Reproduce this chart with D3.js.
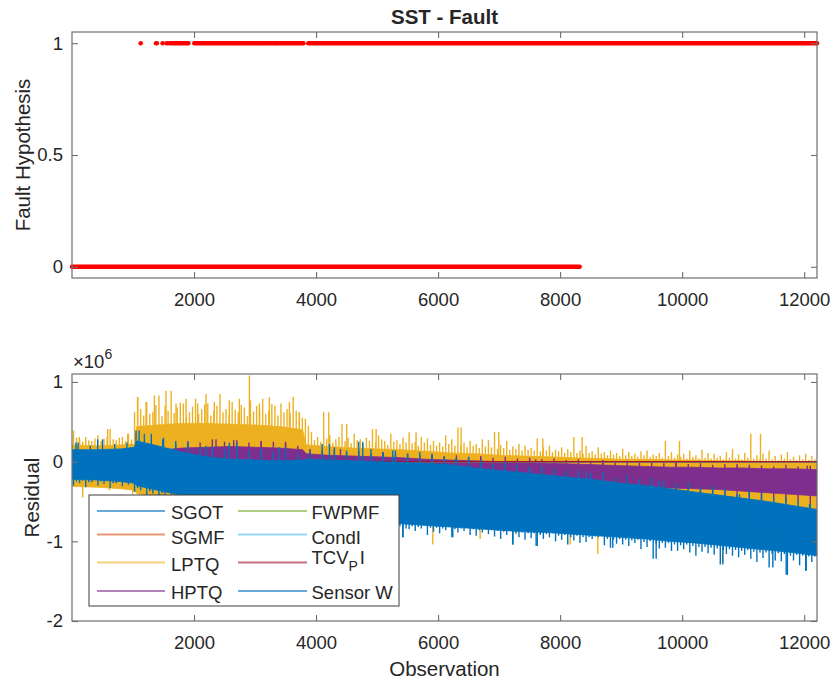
<!DOCTYPE html>
<html>
<head>
<meta charset="utf-8">
<script src="https://cdn.jsdelivr.net/npm/d3@7"></script>
<style>
  body { margin: 0; background: #fff; }
  svg { display: block; }
  text { font-family: "Liberation Sans", Arial, Helvetica, sans-serif; fill: #262626; }
</style>
</head>
<body>
<svg id="fig" width="835" height="688"></svg>
<script>
// ---------- data ----------
const obsMax = 12210;
const xTickValues = [2000, 4000, 6000, 8000, 10000, 12000];
const faultTickValues = [0, 0.5, 1];
const residualTickValues = [-2, -1, 0, 1];

// fault hypothesis: runs of observations [first, last] flagged at each level
const faultZeroRuns = [[0, 8320]];
const faultOneRuns = [[1126, 1126], [1377, 1390], [1486, 1486], [1552, 1560], [1600, 1907],
  [2005, 2340], [2365, 2700], [2720, 3060], [3080, 3330], [3345, 3792], [3874, 12210]];

// residuals (x 1e6)
const seriesNames = ["SGOT", "SGMF", "LPTQ", "HPTQ", "FWPMF", "CondI", "TCV_PI", "Sensor W"];
const seriesColors = ["#0072BD", "#D95319", "#EDB120", "#7E2F8E", "#77AC30", "#4DBEEE", "#A2142F", "#0072BD"];

// dense core of each trace: upper / lower edge at these observations
const obsGrid = [0, 400, 800, 1020, 1060, 1400, 1800, 2200, 2600, 3000, 3400, 3780, 3840,
  4200, 4600, 5000, 5400, 5800, 6200, 6600, 7000, 7400, 7800, 8200, 8600, 9000, 9400, 9800,
  10200, 10600, 11000, 11400, 11800, 12210];
const coarseObs = [0, 3000, 6000, 9000, 12210];
const flatObs = [0, 12210];
// window widths (observations) of the per-window extreme arrays
const fineWindow = 50;
const coarseWindow = 200;

const sgotHi = [0.08, 0.06, 0.02, -0.05, -0.10];
const sgotLo = [-0.10, -0.15, -0.20, -0.30, -0.40];
const sgmfHi = [0.06, 0.05, 0.01, -0.06, -0.12];
const sgmfLo = [-0.08, -0.12, -0.18, -0.28, -0.38];

const lptqHi = [0.21, 0.20, 0.21, 0.22, 0.44, 0.46, 0.48, 0.48, 0.47, 0.46, 0.44, 0.40, 0.21,
  0.19, 0.17, 0.16, 0.15, 0.13, 0.11, 0.10, 0.08, 0.07, 0.06, 0.05, 0.04, 0.03, 0.03, 0.02,
  0.02, 0.01, 0.01, 0.00, 0.00, 0.00];
const lptqLo = [-0.31, -0.32, -0.34, -0.36, -0.40, -0.44, -0.48, -0.52, -0.56, -0.60, -0.64, -0.66, -0.67,
  -0.69, -0.71, -0.73, -0.75, -0.77, -0.79, -0.81, -0.83, -0.85, -0.86, -0.88, -0.90, -0.92, -0.94, -0.97,
  -0.99, -1.02, -1.05, -1.08, -1.11, -1.15];
// LPTQ maximum in each 50-observation window
const lptqWindowMax = [
  0.39, 0.30, 0.28, 0.25, 0.31, 0.27, 0.26, 0.29, 0.33, 0.26, 0.29, 0.31, 0.41, 0.28, 0.27, 0.30, 0.31, 0.26, 0.35, 0.28,
  0.62, 0.81,
  0.66, 0.58, 0.75, 0.60, 0.62, 0.71, 0.83, 0.57, 0.70, 0.64, 0.89, 0.61, 0.68, 0.74, 0.73, 0.56, 0.62, 0.69,
  0.79, 0.60, 0.66, 0.72, 0.73, 0.58, 0.64, 0.70, 0.85, 0.62, 0.66, 0.59, 0.75, 0.65, 0.62, 0.71, 0.68, 0.57,
  0.77, 0.63, 0.70, 0.66, 0.79, 0.60, 0.64, 0.72, 0.70, 0.58, 0.73, 0.62, 0.66, 0.61, 0.81, 0.64, 0.62, 0.55,
  0.54, 0.45,
  0.37, 0.27, 0.31, 0.25, 0.62, 0.29, 0.33, 0.24, 0.28, 0.31, 0.47, 0.26, 0.30, 0.23, 0.35, 0.27, 0.28, 0.22, 0.30, 0.26,
  0.41, 0.24, 0.33, 0.28, 0.26, 0.21, 0.35, 0.25, 0.27, 0.22, 0.30, 0.24, 0.37, 0.23, 0.25, 0.20, 0.31, 0.24, 0.29, 0.21,
  0.26, 0.20, 0.24, 0.19, 0.33, 0.22, 0.28, 0.20, 0.43, 0.21, 0.24, 0.18, 0.26, 0.20, 0.22, 0.17, 0.28, 0.19, 0.27, 0.18,
  0.37, 0.16, 0.21, 0.17, 0.26, 0.15, 0.19, 0.16, 0.22, 0.14, 0.20, 0.15, 0.17, 0.14, 0.29, 0.13, 0.18, 0.14, 0.20, 0.12,
  0.15, 0.13, 0.18, 0.11, 0.16, 0.12, 0.31, 0.11, 0.14, 0.10, 0.20, 0.11, 0.13, 0.09, 0.18, 0.10, 0.12, 0.08, 0.14, 0.09,
  0.11, 0.07, 0.16, 0.08, 0.12, 0.07, 0.10, 0.06, 0.13, 0.08, 0.14, 0.06, 0.09, 0.07, 0.11, 0.05, 0.26, 0.07, 0.12, 0.05,
  0.09, 0.06, 0.10, 0.04, 0.14, 0.06, 0.08, 0.04, 0.15, 0.05, 0.11, 0.04, 0.10, 0.05, 0.07, 0.03, 0.12, 0.05, 0.16, 0.04,
  0.09, 0.03, 0.11, 0.05, 0.35, 0.04, 0.08, 0.03, 0.10, 0.04, 0.14, 0.03, 0.07, 0.02, 0.09, 0.04, 0.12, 0.03, 0.06, 0.02,
  0.08, 0.03, 0.10, 0.02, 0.07, 0.03];
// further isolated LPTQ peaks [observation, value]
const lptqPeaks = [[120, 0.31], [585, 0.41], [913, 0.35],
  [1076, 0.81], [1213, 0.75], [1350, 0.83], [1541, 0.89], [1705, 0.73], [1869, 0.79], [2060, 0.73],
  [2197, 0.85], [2333, 0.75], [2579, 0.77], [2743, 0.79], [2907, 1.08], [3071, 0.73], [3235, 0.81],
  [3563, 0.75], [3727, 0.62], [4208, 0.62], [4503, 0.47], [4984, 0.41], [5639, 0.37], [6377, 0.43],
  [6995, 0.37], [7716, 0.29], [8361, 0.31], [9956, 0.26], [11284, 0.35],
  [45, -0.30], [175, -0.45], [448, -0.32], [612, -0.36], [830, -0.32], [995, -0.41],
  [5913, -1.04], [6514, -0.83], [6689, -0.97], [7279, -0.91], [8164, -1.04], [8618, -1.16], [10667, -1.27]];

const hptqHi = [0.08, 0.08, 0.08, 0.09, 0.11, 0.14, 0.17, 0.18, 0.19, 0.18, 0.17, 0.15, 0.10,
  0.08, 0.07, 0.06, 0.05, 0.03, 0.02, 0.01, 0.00, -0.01, -0.02, -0.03, -0.04, -0.05, -0.06, -0.07,
  -0.07, -0.08, -0.08, -0.09, -0.09, -0.10];
const hptqLo = [-0.15, -0.15, -0.16, -0.17, -0.18, -0.20, -0.20, -0.20, -0.21, -0.22, -0.23, -0.24, -0.25,
  -0.25, -0.26, -0.26, -0.27, -0.27, -0.28, -0.28, -0.29, -0.29, -0.30, -0.30, -0.30, -0.31, -0.32, -0.33,
  -0.34, -0.35, -0.37, -0.39, -0.41, -0.43];
// HPTQ maximum / minimum in each 200-observation window
const hptqWindowMax = [0.10, 0.12, 0.09, 0.11, 0.10, 0.15, 0.18, 0.20, 0.22,
  0.26, 0.24, 0.28, 0.25, 0.27, 0.24, 0.26, 0.25, 0.23, 0.20,
  0.16, 0.14, 0.15, 0.12, 0.13, 0.10, 0.12, 0.09, 0.10, 0.08, 0.09, 0.07, 0.08, 0.06, 0.07, 0.05,
  0.06, 0.04, 0.05, 0.03, 0.04, 0.02, 0.03, 0.01, 0.02, 0.00, 0.01, -0.01, 0.00, -0.02, -0.01, -0.03,
  -0.02, -0.04, -0.03, -0.05, -0.04, -0.05, -0.06, -0.04, -0.06, -0.05];
const hptqWindowMin = [-0.20, -0.21, -0.22, -0.22, -0.24, -0.25, -0.25, -0.26, -0.26, -0.27, -0.28,
  -0.28, -0.29, -0.30, -0.30, -0.31, -0.31, -0.32, -0.32,
  -0.33, -0.32, -0.34, -0.33, -0.35, -0.34, -0.35, -0.36, -0.35, -0.36, -0.37, -0.36, -0.37, -0.38,
  -0.37, -0.36, -0.38, -0.37, -0.39, -0.38, -0.37, -0.39, -0.40, -0.38, -0.41, -0.39, -0.42, -0.40,
  -0.44, -0.41, -0.43, -0.46, -0.44, -0.47, -0.45, -0.49, -0.46, -0.50, -0.48, -0.52, -0.49, -0.53];
const hptqPeaks = [[2360, 0.28], [2650, 0.27], [3100, 0.26], [3500, 0.25], [4400, 0.16], [5093, 0.12],
  [5900, 0.08], [6700, 0.05], [7600, 0.03], [8700, 0.01], [9902, -0.01], [10900, -0.03], [12050, -0.05]];

const fwpmfVals = [0, 0];
const condiVals = [0, 0];
const tcvpiVals = [0, 0];

const sensorWHi = [0.15, 0.15, 0.16, 0.18, 0.26, 0.20, 0.12, 0.06, 0.03, 0.02, 0.01, 0.02, 0.03,
  0.02, 0.01, 0.00, -0.01, -0.02, -0.04, -0.08, -0.11, -0.14, -0.17, -0.20, -0.23, -0.27, -0.30, -0.34,
  -0.38, -0.42, -0.46, -0.50, -0.55, -0.60];
const sensorWLo = [-0.22, -0.23, -0.25, -0.27, -0.30, -0.36, -0.42, -0.48, -0.54, -0.60, -0.65, -0.68, -0.69,
  -0.71, -0.74, -0.76, -0.78, -0.80, -0.82, -0.84, -0.86, -0.88, -0.89, -0.91, -0.93, -0.95, -0.97, -1.00,
  -1.02, -1.05, -1.08, -1.11, -1.14, -1.18];
// Sensor W maximum in each 200-observation window
const sensorWWindowMax = [0.24, 0.20, 0.28, 0.22, 0.24,
  0.39, 0.35, 0.30, 0.26, 0.24, 0.18, 0.20, 0.16, 0.24, 0.14, 0.16, 0.12, 0.18, 0.10, 0.14,
  0.22, 0.18, 0.14, 0.25, 0.16, 0.12, 0.14, 0.10, 0.12, 0.10, 0.06, 0.04, 0.06, 0.02, -0.03, 0.00,
  -0.04, -0.07, -0.05, -0.09, -0.11, -0.11, -0.14, -0.13, -0.20, -0.17, -0.22, -0.20, -0.24, -0.27,
  -0.26, -0.32, -0.30, -0.34, -0.41, -0.37, -0.40, -0.45, -0.44, -0.48, -0.53];
// Sensor W minimum in each 50-observation window
const sensorWWindowMin = [
  -0.30, -0.25, -0.27, -0.24, -0.32, -0.26, -0.26, -0.23, -0.30, -0.25, -0.28, -0.24, -0.33, -0.27, -0.27, -0.25, -0.31, -0.26, -0.29, -0.25,
  -0.38, -0.33, -0.36, -0.32, -0.42, -0.37, -0.40, -0.35, -0.45, -0.40, -0.43, -0.39, -0.48, -0.43, -0.46, -0.42, -0.52, -0.47, -0.50, -0.46,
  -0.55, -0.50, -0.53, -0.49, -0.58, -0.53, -0.56, -0.52, -0.61, -0.56, -0.59, -0.55, -0.64, -0.59, -0.62, -0.58, -0.66, -0.62, -0.65, -0.61,
  -0.70, -0.65, -0.68, -0.64, -0.72, -0.67, -0.70, -0.66, -0.75, -0.70, -0.73, -0.69, -0.77, -0.72, -0.76, -0.72, -0.78, -0.73,
  -0.80, -0.75, -0.78, -0.74, -0.82, -0.76, -0.80, -0.75, -0.84, -0.78, -0.81, -0.77, -0.83, -0.78, -0.85, -0.79, -0.82, -0.78, -0.86, -0.80,
  -0.84, -0.79, -0.87, -0.81, -0.85, -0.80, -0.88, -0.82, -0.86, -0.81, -0.95, -0.84, -0.85, -0.81, -0.87, -0.82, -0.84, -0.80, -0.92, -0.83,
  -0.88, -0.83, -0.90, -0.84, -0.86, -0.82, -0.95, -0.85, -0.89, -0.84, -0.87, -0.83, -0.92, -0.85, -0.93, -0.86, -0.89, -0.85, -0.91, -0.86,
  -0.94, -0.87, -0.97, -0.88, -0.92, -0.87, -1.04, -0.90, -0.95, -0.89, -0.98, -0.90, -0.96, -0.90, -1.06, -0.92, -0.97, -0.91, -0.95, -0.90,
  -1.00, -0.93, -0.98, -0.92, -1.04, -0.95, -0.99, -0.93, -1.02, -0.95, -1.01, -0.95, -0.97, -0.94, -0.95, -0.93, -1.05, -0.97, -1.08, -0.98,
  -1.03, -0.97, -1.04, -0.98, -1.06, -0.99, -1.02, -0.98, -1.10, -1.01, -1.07, -1.00, -1.22, -1.03, -1.09, -1.02, -1.08, -1.02, -1.12, -1.04,
  -1.12, -1.05, -1.10, -1.04, -1.14, -1.06, -1.18, -1.07, -1.13, -1.07, -1.15, -1.08, -1.17, -1.09, -1.29, -1.11, -1.16, -1.10, -1.18, -1.11,
  -1.20, -1.12, -1.17, -1.11, -1.22, -1.13, -1.26, -1.14, -1.21, -1.14, -1.33, -1.16, -1.24, -1.15, -1.25, -1.16, -1.42, -1.18, -1.24, -1.17,
  -1.30, -1.18, -1.37, -1.19, -1.26, -1.19];
const sensorWPeaks = [[66, 0.24], [421, 0.28], [1049, 0.39], [1186, 0.35], [1486, 0.28],
  [2197, 0.20], [2579, 0.24], [3399, 0.18], [4219, 0.22], [4765, 0.25], [5257, 0.14],
  [6296, 0.04], [7497, -0.07], [8426, -0.11], [9628, -0.24], [10940, -0.41], [12088, -0.53],
  [5421, -0.95], [6241, -0.95], [7224, -1.04], [7607, -1.06], [8863, -1.08], [9574, -1.22],
  [10667, -1.29], [11486, -1.33], [11705, -1.42], [12033, -1.37]];

// ---------- layout ----------
const svg = d3.select("#fig");
const axL = 72, axR = 817;
const top1 = 32, bot1 = 278, top2 = 374, bot2 = 621;
const tickFont = "18.5px", labelFont = "20.5px";
const axisColor = "#6e6e6e";

const x = d3.scaleLinear().domain([0, obsMax]).range([axL, axR]);
const yFault = d3.scaleLinear().domain([-0.05, 1.05]).range([bot1, top1]);
const yRes = d3.scaleLinear().domain([-2, 1.1]).range([bot2, top2]);

function drawFrame(yScale, yTicks, top, bot, fmt) {
  const g = svg.append("g");
  const axes = [
    [d3.axisBottom(x).tickValues(xTickValues).tickFormat(d3.format("d")), `translate(0,${bot})`],
    [d3.axisTop(x).tickValues(xTickValues).tickFormat(""), `translate(0,${top})`],
    [d3.axisLeft(yScale).tickValues(yTicks).tickFormat(fmt), `translate(${axL},0)`],
    [d3.axisRight(yScale).tickValues(yTicks).tickFormat(""), `translate(${axR},0)`]
  ];
  axes.forEach(([ax, tr], i) => {
    ax.tickSizeInner(-6).tickSizeOuter(0).tickPadding(i === 0 ? 15 : 9);
    const a = g.append("g").attr("transform", tr).call(ax);
    a.select(".domain").remove();
    a.selectAll(".tick line").attr("stroke", axisColor).attr("stroke-width", 1.1);
    a.selectAll(".tick text").style("font-size", tickFont).attr("fill", "#262626")
      .style("font-family", '"Liberation Sans", Arial, sans-serif');
  });
  g.append("rect").attr("x", axL).attr("y", top).attr("width", axR - axL).attr("height", bot - top)
    .attr("fill", "none").attr("stroke", axisColor).attr("stroke-width", 1.2);
  return g;
}

// ---------- top panel: fault hypothesis ----------
const faultG = svg.append("g");
[[faultZeroRuns, 0], [faultOneRuns, 1]].forEach(([runs, level]) => {
  faultG.selectAll(null).data(runs).join("line")
    .attr("x1", d => x(d[0])).attr("x2", d => x(d[1]))
    .attr("y1", yFault(level)).attr("y2", yFault(level))
    .attr("stroke", "#FF0000").attr("stroke-width", 4.6).attr("stroke-linecap", "round");
});
drawFrame(yFault, faultTickValues, top1, bot1, d => String(d));

svg.append("text").attr("x", (axL + axR) / 2).attr("y", 24).attr("text-anchor", "middle")
  .style("font-size", labelFont).style("font-weight", "bold").text("SST - Fault");
svg.append("text").attr("transform", `translate(30,${(top1 + bot1) / 2}) rotate(-90)`)
  .attr("text-anchor", "middle").style("font-size", labelFont).text("Fault Hypothesis");

// ---------- bottom panel: residuals ----------
svg.append("clipPath").attr("id", "resClip").append("rect")
  .attr("x", axL).attr("y", top2).attr("width", axR - axL).attr("height", bot2 - top2);
const resG = svg.append("g").attr("clip-path", "url(#resClip)");

const windowPeaks = (vals, step) => vals.map((v, i) => [i * step + step / 2, v]);

const bands = {
  "SGOT": { obs: coarseObs, hi: sgotHi, lo: sgotLo, peaks: [] },
  "SGMF": { obs: coarseObs, hi: sgmfHi, lo: sgmfLo, peaks: [] },
  "LPTQ": { obs: obsGrid, hi: lptqHi, lo: lptqLo,
    peaks: windowPeaks(lptqWindowMax, fineWindow).concat(lptqPeaks) },
  "HPTQ": { obs: obsGrid, hi: hptqHi, lo: hptqLo,
    peaks: windowPeaks(hptqWindowMax, coarseWindow).concat(windowPeaks(hptqWindowMin, coarseWindow), hptqPeaks) },
  "Sensor W": { obs: obsGrid, hi: sensorWHi, lo: sensorWLo,
    peaks: windowPeaks(sensorWWindowMax, coarseWindow).concat(windowPeaks(sensorWWindowMin, fineWindow), sensorWPeaks) }
};
const flats = { "FWPMF": fwpmfVals, "CondI": condiVals, "TCV_PI": tcvpiVals };

seriesNames.forEach((name, k) => {
  const color = seriesColors[k];
  if (bands[name]) {
    const s = bands[name];
    const area = d3.area()
      .x((d, i) => x(s.obs[i]))
      .y0((d, i) => yRes(s.lo[i]))
      .y1(d => yRes(d));
    resG.append("path").datum(s.hi).attr("d", area).attr("fill", color)
      .attr("stroke", color).attr("stroke-width", 0.8);
    const mid = d3.scaleLinear().domain(s.obs).range(s.hi.map((h, i) => (h + s.lo[i]) / 2));
    resG.selectAll(null).data(s.peaks).join("line")
      .attr("x1", d => x(d[0])).attr("x2", d => x(d[0]))
      .attr("y1", d => yRes(mid(d[0]))).attr("y2", d => yRes(d[1]))
      .attr("stroke", color).attr("stroke-width", 1.4);
  } else {
    const vals = flats[name];
    const line = d3.line().x((d, i) => x(flatObs[i])).y(d => yRes(d));
    resG.append("path").datum(vals).attr("d", line).attr("fill", "none")
      .attr("stroke", color).attr("stroke-width", 1.5);
  }
});

drawFrame(yRes, residualTickValues, top2, bot2, d => String(d));

// exponent note
const expo = svg.append("text").attr("x", 73).attr("y", 368).style("font-size", tickFont);
expo.append("tspan").text("\u00d710");
expo.append("tspan").attr("dy", -9).style("font-size", "14px").text("6");

svg.append("text").attr("transform", `translate(39,${(top2 + bot2) / 2}) rotate(-90)`)
  .attr("text-anchor", "middle").style("font-size", labelFont).text("Residual");
svg.append("text").attr("x", (axL + axR) / 2).attr("y", 676).attr("text-anchor", "middle")
  .style("font-size", labelFont).text("Observation");

// ---------- legend ----------
const leg = svg.append("g");
leg.append("rect").attr("x", 89).attr("y", 495).attr("width", 310).attr("height", 111)
  .attr("fill", "#fff").attr("stroke", "#3c3c3c").attr("stroke-width", 1);
const rowLine = [511, 534.5, 562.5, 591];
const rowBase = [519, 543.5, 570.5, 599];
const cols = [{ x1: 97, x2: 165, tx: 171 }, { x1: 238, x2: 307, tx: 311.5 }];
seriesNames.forEach((name, k) => {
  const c = cols[Math.floor(k / 4)], r = k % 4;
  leg.append("line").attr("x1", c.x1).attr("x2", c.x2).attr("y1", rowLine[r]).attr("y2", rowLine[r])
    .attr("stroke", seriesColors[k]).attr("stroke-width", 2).attr("stroke-opacity", 0.6);
  const t = leg.append("text").attr("x", c.tx).style("font-size", tickFont);
  if (name === "TCV_PI") {
    t.attr("y", rowBase[r] - 7);
    t.append("tspan").text("TCV");
    t.append("tspan").attr("dy", 7).style("font-size", "14px").text("P");
    t.append("tspan").attr("dy", -7).attr("dx", 2).text("I");
  } else {
    t.attr("y", rowBase[r]).text(name);
  }
});
</script>
</body>
</html>
